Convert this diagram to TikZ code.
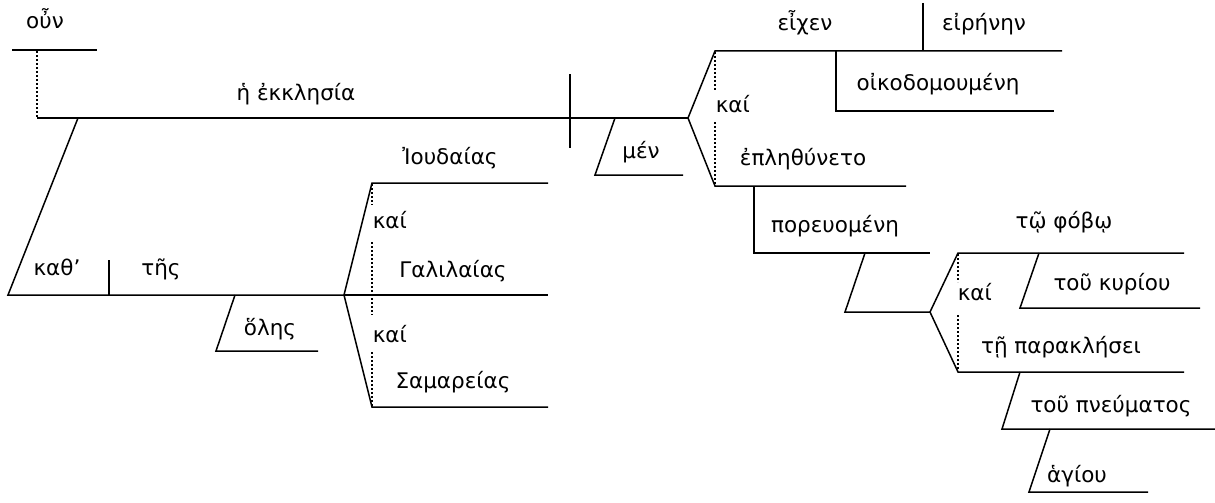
\documentclass[tikz,border=0pt]{standalone}
\usepackage{fontspec}
\setmainfont{DejaVu Sans}
\usetikzlibrary{calc}

\begin{document}
\begin{tikzpicture}[x=1pt, y=-1pt, line width=1.5pt,
    word/.style={font=\fontsize{21.5}{23}\selectfont, inner sep=0pt, anchor=base},
    conj/.style={dash pattern=on 1.6pt off 2.4pt}]
    % Frame
    \useasboundingbox (0,0) rectangle (1215,503);

    % Fork points
    \coordinate (F1) at (344,295);
    \coordinate (F2) at (688,118);
    \coordinate (F3) at (930,312);

    % Conjunction on top
    \draw (12,50) -- (97,50);
    \node[word] (oun) at (45,29) {οὖν};
    \draw[conj] (37,51) -- (37,118);

    % Main line, subject and divider
    \draw (37,118) -- (F2);
    \draw (570,74) -- (570,148);
    \node[word] (subj) at (296,100) {ἡ ἐκκλησία};

    % Prepositional phrase under the subject
    \draw (78,118) -- (8,295) -- (F1);
    \draw (109,260) -- (109,295);
    \node[word] (kath) at (57,275) {καθ’};
    \node[word] (tes) at (161,275) {τῆς};
    \draw (235,295) -- (216,351) -- (318,351);
    \node[word] (holes) at (270,335) {ὅλης};

    % Three objects of the preposition
    \draw (548,183) -- (372,183) -- (F1) -- (372,407) -- (548,407);
    \draw (F1) -- (548,295);
    \node[word] (iud) at (450,164) {Ἰουδαίας};
    \node[word] (gal) at (453,277) {Γαλιλαίας};
    \node[word] (sam) at (453,388) {Σαμαρείας};
    \node[word, anchor=base west] (kai1) at (372,228) {καί};
    \node[word, anchor=base west] (kai2) at (372,342) {καί};
    \draw[conj] (372,184) -- (372,205);
    \draw[conj] (372,242) -- (372,315);
    \draw[conj] (372,352) -- (372,406);

    % Particle
    \draw (615,118) -- (595,175) -- (683,175);
    \node[word] (men) at (641,158) {μέν};

    % Compound predicate
    \draw (1062,51) -- (715,51) -- (F2) -- (715,186) -- (906,186);
    \draw (923,3) -- (923,51);
    \node[word] (eixen) at (805,31) {εἶχεν};
    \node[word] (eirenen) at (984,31) {εἰρήνην};
    \draw (836,51) -- (836,111) -- (1054,111);
    \node[word] (oikod) at (938,90) {οἰκοδομουμένη};
    \node[word] (eplet) at (803,165) {ἐπληθύνετο};
    \node[word, anchor=base west] (kai3) at (715,112) {καί};
    \draw[conj] (715,52) -- (715,90);
    \draw[conj] (715,122) -- (715,185);

    % Participle
    \draw (754,186) -- (754,253) -- (930,253);
    \node[word] (poreu) at (835,232) {πορευομένη};
    \draw (865,253) -- (845,312) -- (F3);

    % Two datives
    \draw (1184,253) -- (958,253) -- (F3) -- (958,372) -- (1184,372);
    \node[word] (phobo) at (1064,228) {τῷ φόβῳ};
    \node[word] (parakl) at (1061,353) {τῇ παρακλήσει};
    \node[word, anchor=base west] (kai4) at (957,300) {καί};
    \draw[conj] (958,254) -- (958,282);
    \draw[conj] (958,315) -- (958,371);

    % Genitives
    \draw (1039,253) -- (1020,308) -- (1200,308);
    \node[word] (kyriou) at (1112,290) {τοῦ κυρίου};
    \draw (1020,372) -- (1002,429) -- (1215,429);
    \node[word] (pneum) at (1111,412) {τοῦ πνεύματος};
    \draw (1050,429) -- (1029,492) -- (1148,492);
    \node[word] (hagiou) at (1077,482) {ἁγίου};
\end{tikzpicture}
\end{document}
